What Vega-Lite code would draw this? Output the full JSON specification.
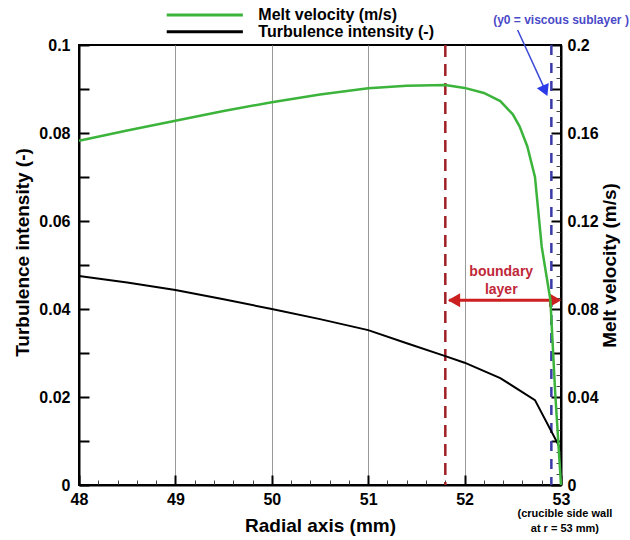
{
  "$schema": "https://vega.github.io/schema/vega-lite/v6.json",
  "width": 482,
  "height": 440,
  "autosize": {"type": "none"},
  "padding": {"left": 79, "top": 45, "right": 69, "bottom": 55},
  "background": "white",
  "config": {
    "font": "Liberation Sans",
    "view": {"stroke": "black", "strokeWidth": 2}
  },
  "datasets": {
    "turb": [
      {"x": 48, "v": 0.0475, "series": "Turbulence intensity (-)"},
      {"x": 48.5, "v": 0.0460, "series": "Turbulence intensity (-)"},
      {"x": 49, "v": 0.0443, "series": "Turbulence intensity (-)"},
      {"x": 49.5, "v": 0.0422, "series": "Turbulence intensity (-)"},
      {"x": 50, "v": 0.0400, "series": "Turbulence intensity (-)"},
      {"x": 50.5, "v": 0.0377, "series": "Turbulence intensity (-)"},
      {"x": 51, "v": 0.0352, "series": "Turbulence intensity (-)"},
      {"x": 51.4, "v": 0.0322, "series": "Turbulence intensity (-)"},
      {"x": 51.8, "v": 0.0293, "series": "Turbulence intensity (-)"},
      {"x": 52, "v": 0.0278, "series": "Turbulence intensity (-)"},
      {"x": 52.37, "v": 0.0243, "series": "Turbulence intensity (-)"},
      {"x": 52.73, "v": 0.0193, "series": "Turbulence intensity (-)"},
      {"x": 53, "v": 0.0080, "series": "Turbulence intensity (-)"}
    ],
    "melt": [
      {"x": 48, "m": 0.1565, "series": "Melt velocity (m/s)"},
      {"x": 48.5, "m": 0.1611, "series": "Melt velocity (m/s)"},
      {"x": 49, "m": 0.1656, "series": "Melt velocity (m/s)"},
      {"x": 49.5, "m": 0.1700, "series": "Melt velocity (m/s)"},
      {"x": 50, "m": 0.1740, "series": "Melt velocity (m/s)"},
      {"x": 50.5, "m": 0.1775, "series": "Melt velocity (m/s)"},
      {"x": 51, "m": 0.1803, "series": "Melt velocity (m/s)"},
      {"x": 51.4, "m": 0.1815, "series": "Melt velocity (m/s)"},
      {"x": 51.8, "m": 0.1818, "series": "Melt velocity (m/s)"},
      {"x": 52, "m": 0.1805, "series": "Melt velocity (m/s)"},
      {"x": 52.2, "m": 0.1782, "series": "Melt velocity (m/s)"},
      {"x": 52.37, "m": 0.1745, "series": "Melt velocity (m/s)"},
      {"x": 52.5, "m": 0.1685, "series": "Melt velocity (m/s)"},
      {"x": 52.57, "m": 0.1630, "series": "Melt velocity (m/s)"},
      {"x": 52.65, "m": 0.1540, "series": "Melt velocity (m/s)"},
      {"x": 52.73, "m": 0.1400, "series": "Melt velocity (m/s)"},
      {"x": 52.8, "m": 0.1083, "series": "Melt velocity (m/s)"},
      {"x": 52.89, "m": 0.0841, "series": "Melt velocity (m/s)"},
      {"x": 52.94, "m": 0.0418, "series": "Melt velocity (m/s)"},
      {"x": 53, "m": 0.0, "series": "Melt velocity (m/s)"}
    ],
    "legend": [
      {"x": 48.91, "x2": 49.7, "tx": 49.86, "v": 0.1068, "series": "Melt velocity (m/s)"},
      {"x": 48.91, "x2": 49.7, "tx": 49.86, "v": 0.1030, "series": "Turbulence intensity (-)"}
    ]
  },
  "encoding": {
    "x": {
      "field": "x", "type": "quantitative",
      "scale": {"domain": [48, 53], "nice": false, "zero": false},
      "axis": {
        "title": "Radial axis (mm)",
        "values": [48, 48.2, 48.4, 48.6, 48.8, 49, 49.2, 49.4, 49.6, 49.8, 50, 50.2, 50.4, 50.6, 50.8, 51, 51.2, 51.4, 51.6, 51.8, 52, 52.2, 52.4, 52.6, 52.8, 53],
        "labelExpr": "abs(datum.value - round(datum.value)) < 0.001 ? format(datum.value, 'd') : ''",
        "labelOverlap": false,
        "ticks": true,
        "tickSize": {"condition": {"test": "abs(datum.value - round(datum.value)) < 0.001", "value": -10}, "value": -5},
        "tickColor": {"condition": {"test": "abs(datum.value - round(datum.value)) < 0.001", "value": "#000000"}, "value": "#444444"},
        "tickWidth": {"condition": {"test": "abs(datum.value - round(datum.value)) < 0.001", "value": 2}, "value": 1},
        "grid": true,
        "gridColor": "#999999",
        "gridWidth": 1,
        "gridOpacity": {"condition": {"test": "abs(datum.value - round(datum.value)) < 0.001 && datum.value > 48.5 && datum.value < 52.5", "value": 1}, "value": 0},
        "domainColor": "black",
        "domainWidth": 2,
        "labelFontSize": 16,
        "labelFontWeight": "bold",
        "labelColor": "black",
        "labelPadding": 16,
        "labelFlush": false,
        "titleFontSize": 19,
        "titleFontWeight": "bold",
        "titleColor": "black",
        "titlePadding": 4
      }
    }
  },
  "layer": [
    {
      "layer": [
        {
          "data": {"values": [{"x": 51.8}]},
          "mark": {"type": "rule", "color": "#a01f25", "strokeWidth": 2.5, "strokeDash": [12, 7]},
          "encoding": {"x": {"field": "x", "type": "quantitative"}}
        },
        {
          "data": {"values": [{"x": 52.9}]},
          "mark": {"type": "rule", "color": "#3a3aa8", "strokeWidth": 2.5, "strokeDash": [10, 8]},
          "encoding": {"x": {"field": "x", "type": "quantitative"}}
        },
        {
          "data": {"name": "turb"},
          "mark": {"type": "line", "strokeWidth": 2},
          "encoding": {
            "y": {
              "field": "v", "type": "quantitative",
              "scale": {"domain": [0, 0.1], "nice": false},
              "axis": {
                "title": "Turbulence intensity (-)",
                "values": [0, 0.0025, 0.005, 0.0075, 0.01, 0.0125, 0.015, 0.0175, 0.02, 0.0225, 0.025, 0.0275, 0.03, 0.0325, 0.035, 0.0375, 0.04, 0.0425, 0.045, 0.0475, 0.05, 0.0525, 0.055, 0.0575, 0.06, 0.0625, 0.065, 0.0675, 0.07, 0.0725, 0.075, 0.0775, 0.08, 0.0825, 0.085, 0.0875, 0.09, 0.0925, 0.095, 0.0975, 0.1],
                "labelExpr": "abs(datum.value*50 - round(datum.value*50)) < 0.001 ? format(datum.value, '.2~f') : ''",
                "labelOverlap": false,
                "ticks": true,
                "tickSize": {"condition": {"test": "abs(datum.value*100 - round(datum.value*100)) < 0.001", "value": -10}, "value": -5},
                "tickColor": {"condition": {"test": "abs(datum.value*100 - round(datum.value*100)) < 0.001", "value": "#000000"}, "value": "#444444"},
                "tickWidth": {"condition": {"test": "abs(datum.value*100 - round(datum.value*100)) < 0.001", "value": 2}, "value": 1},
                "grid": false,
                "domainColor": "black",
                "domainWidth": 2,
                "labelFontSize": 16,
                "labelFontWeight": "bold",
                "labelColor": "black",
                "labelPadding": 19,
                "labelFlush": false,
                "titleFontSize": 19,
                "titleFontWeight": "bold",
                "titleColor": "black",
                "titlePadding": 6,
                "titleY": 207
              }
            },
            "color": {
              "field": "series", "type": "nominal",
              "scale": {"domain": ["Melt velocity (m/s)", "Turbulence intensity (-)"], "range": ["#3cb43c", "#000000"]},
              "legend": null
            }
          }
        },
        {
          "data": {"name": "legend"},
          "mark": {"type": "rule", "strokeWidth": 3},
          "encoding": {
            "x": {"field": "x", "type": "quantitative"},
            "x2": {"field": "x2"},
            "y": {"field": "v", "type": "quantitative"},
            "color": {"field": "series", "type": "nominal"}
          }
        },
        {
          "data": {"name": "legend"},
          "mark": {"type": "text", "fontSize": 16, "fontWeight": "bold", "color": "black", "align": "left", "baseline": "middle"},
          "encoding": {
            "x": {"field": "tx", "type": "quantitative"},
            "y": {"field": "v", "type": "quantitative"},
            "text": {"field": "series"}
          }
        },
        {
          "data": {"values": [{"x": 51.84, "x2": 52.97, "v": 0.042}]},
          "mark": {"type": "rule", "color": "#cc1f1f", "strokeWidth": 3},
          "encoding": {
            "x": {"field": "x", "type": "quantitative"},
            "x2": {"field": "x2"},
            "y": {"field": "v", "type": "quantitative"}
          }
        },
        {
          "data": {"values": [{"x": 51.89, "v": 0.042}]},
          "mark": {"type": "point", "shape": "triangle-left", "filled": true, "color": "#cc1f1f", "size": 200, "opacity": 1},
          "encoding": {
            "x": {"field": "x", "type": "quantitative"},
            "y": {"field": "v", "type": "quantitative"}
          }
        },
        {
          "data": {"values": [{"x": 52.94, "v": 0.042}]},
          "mark": {"type": "point", "shape": "triangle-right", "filled": true, "color": "#cc1f1f", "size": 200, "opacity": 1},
          "encoding": {
            "x": {"field": "x", "type": "quantitative"},
            "y": {"field": "v", "type": "quantitative"}
          }
        },
        {
          "data": {"values": [{"x": 52.38, "v": 0.0484, "t": "boundary"}, {"x": 52.38, "v": 0.0443, "t": "layer"}]},
          "mark": {"type": "text", "color": "#c0283a", "fontSize": 14, "fontWeight": "bold", "align": "center", "baseline": "middle"},
          "encoding": {
            "x": {"field": "x", "type": "quantitative"},
            "y": {"field": "v", "type": "quantitative"},
            "text": {"field": "t"}
          }
        },
        {
          "data": {"values": [{"x": 52.55, "v": 0.1034, "x2": 52.835, "v2": 0.0898}]},
          "mark": {"type": "rule", "color": "#3b48d8", "strokeWidth": 1.5},
          "encoding": {
            "x": {"field": "x", "type": "quantitative"},
            "y": {"field": "v", "type": "quantitative"},
            "x2": {"field": "x2"},
            "y2": {"field": "v2"}
          }
        },
        {
          "data": {"values": [{"x": 52.835, "v": 0.0896}]},
          "mark": {"type": "point", "shape": "triangle-up", "filled": true, "color": "#2b3be8", "size": 170, "angle": 156, "opacity": 1},
          "encoding": {
            "x": {"field": "x", "type": "quantitative"},
            "y": {"field": "v", "type": "quantitative"}
          }
        },
        {
          "data": {"values": [{"x": 53.0, "v": 0.1057, "t": "(y0 = viscous sublayer )"}]},
          "mark": {"type": "text", "color": "#4a4ac8", "fontSize": 12, "fontWeight": "bold", "align": "center", "baseline": "middle"},
          "encoding": {
            "x": {"field": "x", "type": "quantitative"},
            "y": {"field": "v", "type": "quantitative"},
            "text": {"field": "t"}
          }
        },
        {
          "data": {"values": [{"x": 53.04, "v": -0.0066, "t": "(crucible side wall"}, {"x": 53.04, "v": -0.0099, "t": "at r = 53 mm)"}]},
          "mark": {"type": "text", "color": "black", "fontSize": 11, "fontWeight": "bold", "align": "center", "baseline": "middle"},
          "encoding": {
            "x": {"field": "x", "type": "quantitative"},
            "y": {"field": "v", "type": "quantitative"},
            "text": {"field": "t"}
          }
        }
      ]
    },
    {
      "data": {"name": "melt"},
      "mark": {"type": "line", "strokeWidth": 2.5},
      "encoding": {
        "y": {
          "field": "m", "type": "quantitative",
          "scale": {"domain": [0, 0.2], "nice": false},
          "axis": {
            "orient": "right",
            "title": "Melt velocity (m/s)",
            "titleAngle": -90,
            "values": [0, 0.005, 0.01, 0.015, 0.02, 0.025, 0.03, 0.035, 0.04, 0.045, 0.05, 0.055, 0.06, 0.065, 0.07, 0.075, 0.08, 0.085, 0.09, 0.095, 0.1, 0.105, 0.11, 0.115, 0.12, 0.125, 0.13, 0.135, 0.14, 0.145, 0.15, 0.155, 0.16, 0.165, 0.17, 0.175, 0.18, 0.185, 0.19, 0.195, 0.2],
            "labelExpr": "abs(datum.value*25 - round(datum.value*25)) < 0.001 ? format(datum.value, '.2~f') : ''",
            "labelOverlap": false,
            "ticks": true,
            "tickSize": {"condition": {"test": "abs(datum.value*50 - round(datum.value*50)) < 0.001", "value": -10}, "value": -5},
            "tickColor": {"condition": {"test": "abs(datum.value*50 - round(datum.value*50)) < 0.001", "value": "#000000"}, "value": "#444444"},
            "tickWidth": {"condition": {"test": "abs(datum.value*50 - round(datum.value*50)) < 0.001", "value": 2}, "value": 1},
            "grid": false,
            "domainColor": "black",
            "domainWidth": 2,
            "labelFontSize": 16,
            "labelFontWeight": "bold",
            "labelColor": "black",
            "labelPadding": 16,
            "labelFlush": false,
            "titleFontSize": 19,
            "titleFontWeight": "bold",
            "titleColor": "black",
            "titlePadding": 21
          }
        },
        "color": {"field": "series", "type": "nominal"}
      }
    }
  ],
  "resolve": {"scale": {"y": "independent"}}
}
